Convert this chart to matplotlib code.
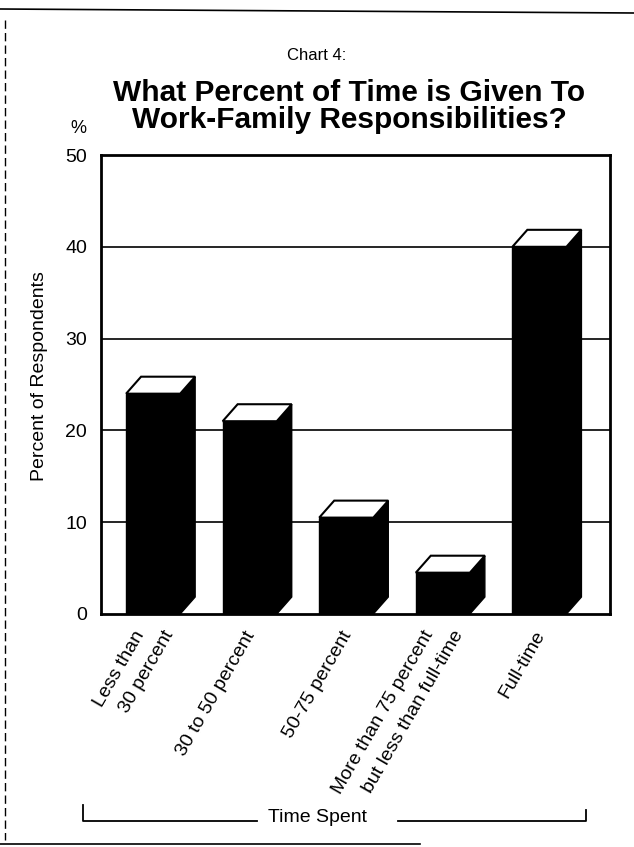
import matplotlib.pyplot as plt
from matplotlib.patches import Polygon
from matplotlib.lines import Line2D

categories = [
    "Less than\n30 percent",
    "30 to 50 percent",
    "50-75 percent",
    "More than 75 percent\nbut less than full-time",
    "Full-time",
]
values = [24, 21, 10.5, 4.5, 40]
yticks = [0, 10, 20, 30, 40, 50]
title_lines = ["What Percent of Time is Given To", "Work-Family Responsibilities?"]

plt.rcParams["font.family"] = ["Liberation Sans", "DejaVu Sans"]

fig = plt.figure(figsize=(6.34, 8.47), dpi=100)
ax = fig.add_axes([0.1593, 0.2751, 0.8027, 0.5419])

width = 0.56
dx = 0.155
dy = 1.85
xs = list(range(len(values)))

ax.bar(xs, values, width=width, color="black", edgecolor="black", zorder=3)
for x, v in zip(xs, values):
    r = x + width / 2
    l = x - width / 2
    side = Polygon([(r, 0), (r + dx, dy), (r + dx, v + dy), (r, v)],
                   closed=True, facecolor="black", edgecolor="black", lw=1, zorder=3)
    top = Polygon([(l, v), (r, v), (r + dx, v + dy), (l + dx, v + dy)],
                  closed=True, facecolor="white", edgecolor="black", lw=1.5, zorder=4,
                  joinstyle="miter")
    ax.add_patch(side)
    ax.add_patch(top)

ax.set_xlim(-0.54, 4.73)
ax.set_ylim(0, 50)
ax.set_yticks(yticks)
ax.tick_params(axis="y", length=0, labelsize=14, pad=10)
ax.tick_params(axis="x", length=0)
for y in yticks[1:-1]:
    ax.axhline(y, color="black", lw=1.2, zorder=1)
for s in ax.spines.values():
    s.set_linewidth(2)

# category labels: each line rotated on its own, later lines shifted right
ax.set_xticks(xs)
ax.set_xticklabels([])
for x, lab in zip(xs, categories):
    lines = lab.split("\n")
    shifts = [-0.06] if len(lines) == 1 else [-0.21, 0.1]
    for line, sh in zip(lines, shifts):
        ax.annotate(line, xy=(x + sh, 0), xycoords="data",
                    xytext=(0, -10), textcoords="offset points",
                    rotation=60, rotation_mode="anchor", ha="right", va="top",
                    fontsize=14)

ax.set_ylabel("Percent of Respondents", fontsize=14)
ax.yaxis.set_label_coords(-0.104, 0.518)
ax.text(-0.045, 1.058, "%", transform=ax.transAxes, fontsize=13,
        ha="center", va="center")

fig.text(0.5, 1 - 55 / 847, "Chart 4:", ha="center", va="center", fontsize=12)
for i, t in enumerate(title_lines):
    fig.text(349 / 634, 1 - (93 + 27 * i) / 847, t, ha="center", va="center",
             fontsize=21.5, fontweight="bold")

# "Time Spent" bracket
yb = 1 - 821 / 847
fig.add_artist(Line2D([83 / 634, 83 / 634, 257 / 634], [1 - 805 / 847, yb, yb],
                      color="black", lw=1.3))
fig.add_artist(Line2D([398 / 634, 586 / 634, 586 / 634], [yb, yb, 1 - 810 / 847],
                      color="black", lw=1.3))
fig.text(0.5, 1 - 817 / 847, "Time Spent", ha="center", va="center", fontsize=14)

# scan frame
fig.add_artist(Line2D([0, 1], [1 - 9 / 847, 1 - 13 / 847], color="black", lw=1.2))
fig.add_artist(Line2D([5 / 634, 5 / 634], [1 - 20 / 847, 1 - 840 / 847],
                      color="black", lw=1, ls=(0, (6, 3))))
fig.add_artist(Line2D([0, 420 / 634], [1 - 844 / 847, 1 - 844 / 847],
                      color="black", lw=1.2))

fig.savefig("out.png", dpi=100)
